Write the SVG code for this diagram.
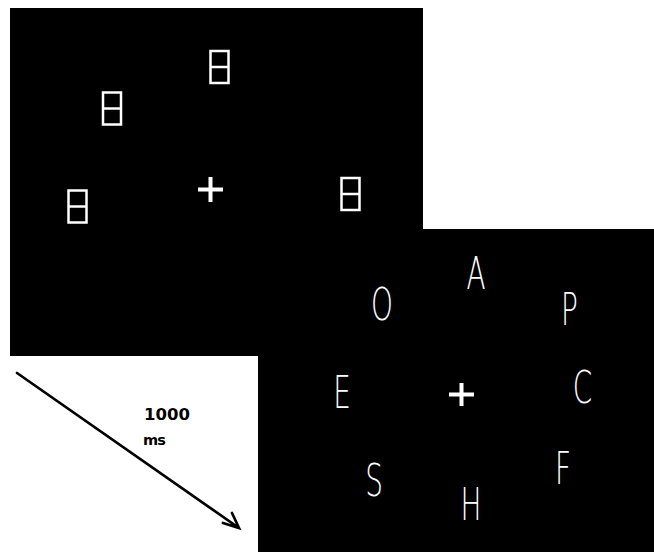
<svg xmlns="http://www.w3.org/2000/svg" width="654" height="552" viewBox="0 0 654 552">
<style>
.panel{fill:#000}
.mask{fill:none;stroke:#fff;stroke-width:2.5}
.fix{stroke:#fff;stroke-width:4;fill:none}
.ltr{fill:#fff;font-family:"DejaVu Sans","Liberation Sans",sans-serif;font-weight:200;font-size:45px;text-anchor:middle}
.lbl{fill:#000;font-family:"DejaVu Sans","Liberation Sans",sans-serif;font-weight:bold}
.arrow{stroke:#000;stroke-width:2.7;fill:none;stroke-linecap:round}
</style>
<defs>
<g id="eight"><rect class="mask" x="-9" y="-16" width="18" height="32"/><line class="mask" x1="-9" y1="0" x2="9" y2="0"/></g>
</defs>
<rect width="654" height="552" fill="#fff"/>
<g id="panel1">
<rect class="panel" x="10" y="8" width="413" height="348"/>
<g id="mask-top" transform="translate(219.5,67)"><use href="#eight"/></g>
<g id="mask-upleft" transform="translate(112,108.5)"><use href="#eight"/></g>
<g id="mask-left" transform="translate(77.5,206.5)"><use href="#eight"/></g>
<g id="mask-right" transform="translate(350.5,194)"><use href="#eight"/></g>
<g id="fix1"><path class="fix" d="M198,189.5H223M210.5,177V202"/></g>
</g>
<g id="panel2">
<rect class="panel" x="258" y="229" width="396" height="323"/>
<g id="ltr-O" transform="translate(382,320) scale(0.62,1)"><text class="ltr">O</text></g>
<g id="ltr-A" transform="translate(476,289) scale(0.62,1)"><text class="ltr">A</text></g>
<g id="ltr-P" transform="translate(569.5,325) scale(0.62,1)"><text class="ltr">P</text></g>
<g id="ltr-E" transform="translate(342,408) scale(0.62,1)"><text class="ltr">E</text></g>
<g id="ltr-C" transform="translate(582.5,403) scale(0.62,1)"><text class="ltr">C</text></g>
<g id="ltr-S" transform="translate(374,496) scale(0.62,1)"><text class="ltr">S</text></g>
<g id="ltr-H" transform="translate(471,520) scale(0.62,1)"><text class="ltr">H</text></g>
<g id="ltr-F" transform="translate(563,484) scale(0.62,1)"><text class="ltr">F</text></g>
<g id="fix2"><path class="fix" d="M449,394.5H474M461.5,383V406"/></g>
</g>
<g id="connectors">
<path class="arrow" d="M17,373L239,528M223,523L239,528L232,513"/>
</g>
<g id="time-label">
<text class="lbl" x="144" y="420" font-size="16.5">1000</text>
<text class="lbl" x="143" y="444.5" font-size="14.5" letter-spacing="-0.8">ms</text>
</g>
</svg>
